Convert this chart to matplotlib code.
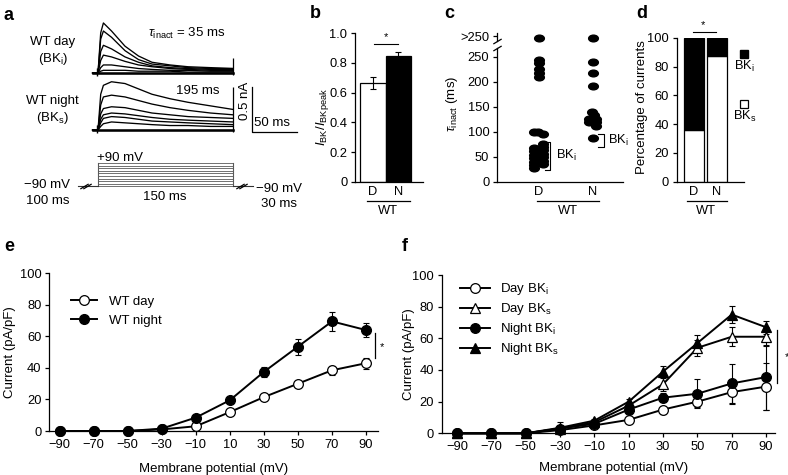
import matplotlib
matplotlib.use('Agg')
import matplotlib.pyplot as plt
from matplotlib.path import Path
from matplotlib.lines import Line2D

plt.rcParams['font.family'] = ['Liberation Sans', 'DejaVu Sans']
plt.rcParams['mathtext.fontset'] = 'custom'
plt.rcParams['mathtext.rm'] = 'Liberation Sans'
plt.rcParams['mathtext.it'] = 'Liberation Sans:italic'
plt.rcParams['mathtext.bf'] = 'Liberation Sans:bold'
plt.rcParams['font.size'] = 8.8

# ---- data ----
# panel a: current traces (nA) sampled at these times (ms)
t_trace = [-6, 0, 3, 6, 15, 30, 45, 60, 80, 100, 125, 150]
day_traces = [
    [0, 0, 0.45, 0.56, 0.47, 0.30, 0.19, 0.12, 0.09, 0.07, 0.06, 0.05],
    [0, 0, 0.38, 0.47, 0.40, 0.25, 0.15, 0.10, 0.08, 0.06, 0.05, 0.05],
    [0, 0, 0.24, 0.31, 0.27, 0.18, 0.12, 0.08, 0.06, 0.05, 0.04, 0.04],
    [0, 0, 0.14, 0.20, 0.18, 0.13, 0.09, 0.07, 0.05, 0.04, 0.03, 0.03],
    [0, 0, 0.06, 0.09, 0.09, 0.07, 0.05, 0.04, 0.03, 0.03, 0.02, 0.02],
    [0, 0, 0.02, 0.03, 0.03, 0.03, 0.02, 0.02, 0.02, 0.01, 0.01, 0.01],
    [0, 0, 0, 0, 0, 0, 0, 0, 0, 0, 0, 0],
]
night_traces = [
    [0, 0, 0.40, 0.50, 0.54, 0.52, 0.46, 0.40, 0.35, 0.31, 0.27, 0.23],
    [0, 0, 0.28, 0.37, 0.39, 0.37, 0.33, 0.29, 0.25, 0.22, 0.19, 0.17],
    [0, 0, 0.18, 0.24, 0.26, 0.25, 0.22, 0.19, 0.17, 0.15, 0.14, 0.13],
    [0, 0, 0.12, 0.17, 0.19, 0.18, 0.16, 0.14, 0.12, 0.11, 0.10, 0.09],
    [0, 0, 0.08, 0.13, 0.15, 0.14, 0.12, 0.10, 0.09, 0.08, 0.07, 0.06],
    [0, 0, 0.04, 0.07, 0.09, 0.08, 0.07, 0.06, 0.05, 0.05, 0.04, 0.04],
    [0, 0, 0, 0, 0, 0, 0, 0, 0, 0, 0, 0],
]
tail_day = 0.17
tail_night = 0.48
pulse_ms = 150
step_mv = [-90, -70, -50, -30, -10, 10, 30, 50, 70, 90]

# panel b
b_groups = ['D', 'N']
b_vals = [0.665, 0.845]
b_err = [0.04, 0.03]

# panel c: tau_inact (ms) of single cells, value 287 = ">250"
c_day = [287, 244, 238, 226, 218, 210, 100, 100, 96,
         68, 61, 54, 47, 40, 33, 27, 76, 70, 63, 56, 49, 42, 35]
c_night = [287, 240, 217, 191, 140, 133, 126, 126, 119, 119, 112, 87]

# panel d: percentage of currents
d_bks = [36, 87]
d_bki = [64, 13]

# panel e
mv = [-90, -70, -50, -30, -10, 10, 30, 50, 70, 90]
e_day = [0, 0, 0, 1, 3, 12, 21.5, 30, 38.5, 43]
e_day_err = [0, 0, 0, 0.5, 0.8, 1, 1.5, 2, 3, 3.5]
e_night = [0, 0, 0, 1.5, 8.5, 19.5, 37.5, 53.5, 69.5, 64]
e_night_err = [0, 0, 0, 0.5, 1, 1.5, 3, 5, 6, 4.5]

# panel f
f_day_bki = [0, 0, 0, 2, 5, 8.5, 15, 20, 26, 29.5]
f_day_bki_err = [0, 0, 0, 1, 1, 1, 2.5, 3.5, 7.5, 15]
f_day_bks = [0, 0, 0, 3, 7, 17.5, 31, 54, 61, 61]
f_day_bks_err = [0, 0, 0, 1, 1, 1.5, 4, 5, 6, 6]
f_night_bki = [0, 0, 0, 3, 6, 15, 22.5, 25, 31.5, 35.5]
f_night_bki_err = [0, 0, 0, 1.5, 1, 1.5, 3, 9, 12.5, 20.5]
f_night_bks = [0, 0, 0, 3.5, 8, 20, 39, 57, 75, 67]
f_night_bks_err = [0, 0, 0, 3.5, 1, 1.5, 3.5, 5, 5.5, 4]

# ---- layout helpers (pixel coords, origin top-left) ----
W, H = 788, 475
fig = plt.figure(figsize=(W / 100, H / 100), dpi=100)


def box(x0, y0, x1, y1):
    return fig.add_axes([x0 / W, 1 - y1 / H, (x1 - x0) / W, (y1 - y0) / H])


def ftext(x, y, s, **kw):
    kw.setdefault('ha', 'center')
    kw.setdefault('va', 'center')
    fig.text(x / W, 1 - y / H, s, **kw)


def fline(x0, x1, y):
    fig.add_artist(Line2D([x0 / W, x1 / W], [1 - y / H, 1 - y / H],
                          transform=fig.transFigure, color='k', lw=0.9))


def style(ax):
    for s in ['top', 'right']:
        ax.spines[s].set_visible(False)
    for s in ['left', 'bottom']:
        ax.spines[s].set_linewidth(0.9)
    ax.tick_params(direction='out', length=3, width=0.9, pad=2.5, labelsize=9.3)


brk = dict(marker=[(-1, -0.6), (1, 0.6)], markersize=6, linestyle='none',
           color='k', mec='k', mew=0.9, clip_on=False)

# ---- panel labels ----
for lab, x, y in [('a', 9, 15), ('b', 315, 13), ('c', 449, 14), ('d', 642, 13),
                  ('e', 9, 246), ('f', 405, 246)]:
    ftext(x, y, lab, fontsize=13, fontweight='bold')

# ---- panel a ----
ax_day = box(80, 15, 300, 78)
ax_day.set_xlim(-20, 224.4)
ax_day.set_ylim(-0.056, 0.649)
ax_night = box(80, 78, 300, 140)
ax_night.set_xlim(-20, 224.4)
ax_night.set_ylim(-0.112, 0.582)
for ax, traces, tail in [(ax_day, day_traces, tail_day), (ax_night, night_traces, tail_night)]:
    ax.axis('off')
    for tr in traces:
        ax.plot(t_trace, tr, color='k', lw=0.95)
    ax.plot([t_trace[0], t_trace[-1]], [0, 0], color='k', lw=1.8)
    ax.vlines([t_trace[1] - 1], -0.03, 0.06, color='k', lw=1)
    ax.vlines([pulse_ms], -0.02, tail, color='k', lw=0.9)

# scale bar 0.5 nA / 50 ms
ax_night.plot([170.8, 170.8, 220.8], [0.48, -0.02, -0.02], color='k', lw=0.9)

ftext(53, 42, 'WT day', fontsize=9.5)
ftext(53, 59, '(BK$_\\mathregular{i}$)', fontsize=9.5)
ftext(52, 101, 'WT night', fontsize=9.5)
ftext(52, 118, '(BK$_\\mathregular{s}$)', fontsize=9.5)
ftext(148, 33, '$\\tau_{\\mathregular{inact}}$ = 35 ms', fontsize=9.5, ha='left')
ftext(198, 91, '195 ms', fontsize=9.5)
ftext(245, 101, '0.5 nA', fontsize=9.5, rotation=90)
ftext(272, 123, '50 ms', fontsize=9.5)

# voltage protocol
ax_p = box(60, 150, 300, 200)
ax_p.set_xlim(-42.2, 224.4)
ax_p.set_ylim(-193.4, 189.5)
ax_p.axis('off')
for v in step_mv:
    ax_p.plot([0, pulse_ms], [v, v], color='0.35', lw=0.6)
ax_p.plot([0, 0], [step_mv[0], step_mv[-1]], color='0.35', lw=0.8)
ax_p.plot([pulse_ms, pulse_ms], [step_mv[0], step_mv[-1]], color='0.35', lw=0.8)
ax_p.plot([-22, 0], [-90, -90], color='0.2', lw=0.8)
ax_p.plot([pulse_ms, pulse_ms + 22], [-90, -90], color='0.2', lw=0.8)
ax_p.plot([-15, -12], [-90, -90], **brk)
ax_p.plot([pulse_ms + 8, pulse_ms + 11], [-90, -90], **brk)

ftext(97, 158, '+90 mV', fontsize=9.5, ha='left')
ftext(47, 185, '\u221290 mV', fontsize=9.5)
ftext(48, 201, '100 ms', fontsize=9.5)
ftext(165, 197, '150 ms', fontsize=9.5)
ftext(279, 189, '\u221290 mV', fontsize=9.5)
ftext(279, 204, '30 ms', fontsize=9.5)

# ---- panel b ----
ax_b = box(355, 33.3, 423, 181.7)
style(ax_b)
ax_b.bar([0, 1], b_vals, width=1.0, color=['white', 'black'], edgecolor='k', lw=0.9)
ax_b.errorbar([0, 1], b_vals, yerr=b_err, fmt='none', ecolor='k', elinewidth=0.8,
              capsize=2, capthick=0.8)
ax_b.set_xlim(-0.71, 1.98)
ax_b.set_ylim(0, 1.0)
ax_b.set_yticks([0, 0.2, 0.4, 0.6, 0.8, 1.0])
ax_b.set_yticklabels(['0', '0.2', '0.4', '0.6', '0.8', '1.0'])
ax_b.set_xticks([0, 1])
ax_b.set_xticklabels(b_groups)
ax_b.tick_params(axis='x', length=0, pad=3)
ax_b.plot([0.04, 0.98], [0.93, 0.93], color='k', lw=0.8, clip_on=False)
ax_b.text(0.51, 0.975, '*', ha='center', va='center', fontsize=8)
ax_b.set_ylabel('$I_{\\mathregular{BK}}/I_{\\mathregular{BKpeak}}$', fontsize=9.5)
ax_b.yaxis.set_label_coords(-0.36, 0.44)
fline(366.7, 410, 201)
ftext(388, 211, 'WT', fontsize=9.3)

# ---- panel c ----
circ = Path.unit_circle()
ell = Path(circ.vertices * [1.45, 1.0], circ.codes)
c_day_off = [0, 0, 0, 0, 0, 0, -0.09, -0.02, 0.08,
             -0.085, -0.085, -0.085, -0.085, -0.085, -0.085, -0.085,
             0.075, 0.075, 0.075, 0.075, 0.075, 0.075, 0.075]
c_night_off = [0, 0, 0, 0, -0.02, 0.03, -0.07, 0.06, -0.07, 0.06, 0.06, 0]

ax_c = box(497, 32.7, 623, 181.7)
style(ax_c)
ax_c.plot([o for o in c_day_off], c_day, linestyle='none', marker=ell, ms=7,
          color='k', clip_on=False)
ax_c.plot([1 + o for o in c_night_off], c_night, linestyle='none', marker=ell, ms=7,
          color='k', clip_on=False)
ax_c.set_xlim(-0.78, 1.56)
ax_c.set_ylim(0, 298)
ax_c.spines['left'].set_bounds(0, 268)
ax_c.plot([0, 0], [282, 298], color='k', lw=0.9, transform=ax_c.get_yaxis_transform(),
          clip_on=False)
ax_c.plot([0, 0], [268, 282], transform=ax_c.get_yaxis_transform(), **brk)
ax_c.set_yticks([0, 50, 100, 150, 200, 250, 291])
ax_c.set_yticklabels(['0', '50', '100', '150', '200', '250', '>250'])
ax_c.set_xticks([0, 1])
ax_c.set_xticklabels(['D', 'N'])
ax_c.tick_params(axis='x', length=0, pad=3)
ax_c.plot([0.11, 0.2, 0.2, 0.11], [80, 80, 23, 23], color='k', lw=0.8, clip_on=False)
ax_c.text(0.32, 52, 'BK$_\\mathregular{i}$', ha='left', va='center', fontsize=9.3)
ax_c.plot([1.09, 1.2, 1.2, 1.09], [95, 95, 70, 70], color='k', lw=0.8, clip_on=False)
ax_c.text(1.28, 83, 'BK$_\\mathregular{i}$', ha='left', va='center', fontsize=9.3)
ax_c.set_ylabel('$\\tau_{\\mathregular{inact}}$ (ms)', fontsize=9.5)
ax_c.yaxis.set_label_coords(-0.29, 0.52)
fline(536.7, 599, 201)
ftext(568, 211, 'WT', fontsize=9.3)

# ---- panel d ----
ax_d = box(676.7, 37.7, 744, 181.7)
style(ax_d)
ax_d.bar([0, 1], d_bks, width=0.88, color='white', edgecolor='k', lw=0.9)
ax_d.bar([0, 1], d_bki, bottom=d_bks, width=0.88, color='black', edgecolor='k', lw=0.9)
ax_d.set_xlim(-0.76, 2.2)
ax_d.set_ylim(0, 100)
ax_d.set_yticks([0, 20, 40, 60, 80, 100])
ax_d.set_xticks([0, 1])
ax_d.set_xticklabels(['D', 'N'])
ax_d.tick_params(axis='x', length=0, pad=3)
ax_d.plot([-0.05, 0.97], [103.7, 103.7], color='k', lw=0.8, clip_on=False)
ax_d.text(0.4, 109, '*', ha='center', va='center', fontsize=8)
ax_d.plot([2.18], [89], marker='s', ms=6, color='k', mec='k', clip_on=False)
ax_d.text(2.2, 80, 'BK$_\\mathregular{i}$', ha='center', va='center', fontsize=9.3)
ax_d.plot([2.18], [54], marker='s', ms=6, mfc='white', mec='k', mew=0.9, clip_on=False)
ax_d.text(2.22, 45, 'BK$_\\mathregular{s}$', ha='center', va='center', fontsize=9.3)
ax_d.set_ylabel('Percentage of currents', fontsize=9.5)
ax_d.yaxis.set_label_coords(-0.43, 0.52)
fline(686.7, 726.7, 201)
ftext(706, 211, 'WT', fontsize=9.3)

# ---- panel e ----
ax_e = box(49.3, 273.3, 378, 431)
style(ax_e)
ax_e.errorbar(mv, e_night, yerr=e_night_err, fmt='none', ecolor='k', elinewidth=0.8,
              capsize=2.5, capthick=0.8)
ax_e.errorbar(mv, e_day, yerr=e_day_err, fmt='none', ecolor='k', elinewidth=0.8,
              capsize=2.5, capthick=0.8)
ax_e.plot(mv, e_day, '-o', color='k', mfc='white', mec='k', mew=0.9, ms=7, lw=1.4,
          label='WT day', clip_on=False, zorder=3)
ax_e.plot(mv, e_night, '-o', color='k', mfc='k', mec='k', ms=7, lw=1.4,
          label='WT night', clip_on=False, zorder=3)
ax_e.set_xlim(-96, 97)
ax_e.set_ylim(0, 100)
ax_e.set_xticks(mv)
ax_e.set_xticklabels([str(v).replace('-', '\u2212') for v in mv])
ax_e.set_yticks([0, 20, 40, 60, 80, 100])
ax_e.plot([95.2, 95.2], [46, 62], color='k', lw=0.9, clip_on=False)
ax_e.text(99.5, 53.5, '*', ha='center', va='center', fontsize=8, clip_on=False)
ax_e.legend(loc='upper left', bbox_to_anchor=(0.065, 0.86), frameon=False,
            borderpad=0, borderaxespad=0, handlelength=2.0, handletextpad=0.9,
            labelspacing=0.55, fontsize=9.5)
ax_e.set_ylabel('Current (pA/pF)', fontsize=9.5)
ax_e.yaxis.set_label_coords(-0.1, 0.5)
ax_e.set_xlabel('Membrane potential (mV)', fontsize=9.5)
ax_e.xaxis.set_label_coords(0.5, -0.2)

# ---- panel f ----
ax_f = box(441.7, 275, 775, 433.3)
style(ax_f)
f_series = [
    (f_day_bki, f_day_bki_err, 'o', 'white', 'Day BK$_\\mathregular{i}$'),
    (f_day_bks, f_day_bks_err, '^', 'white', 'Day BK$_\\mathregular{s}$'),
    (f_night_bki, f_night_bki_err, 'o', 'black', 'Night BK$_\\mathregular{i}$'),
    (f_night_bks, f_night_bks_err, '^', 'black', 'Night BK$_\\mathregular{s}$'),
]
for vals, err, mk, fc, lab in f_series:
    ax_f.errorbar(mv, vals, yerr=err, fmt='none', ecolor='k', elinewidth=0.8,
                  capsize=2.5, capthick=0.8)
for vals, err, mk, fc, lab in f_series:
    ax_f.plot(mv, vals, '-' + mk, color='k', mfc=fc, mec='k', mew=0.9, ms=7, lw=1.4,
              label=lab, clip_on=False, zorder=3)
ax_f.set_xlim(-98.9, 95.2)
ax_f.set_ylim(0, 100)
ax_f.set_xticks(mv)
ax_f.set_xticklabels([str(v).replace('-', '\u2212') for v in mv])
ax_f.set_yticks([0, 20, 40, 60, 80, 100])
ax_f.plot([96.2, 96.2], [31.6, 65], color='k', lw=0.9, clip_on=False)
ax_f.text(102, 48.4, '*', ha='center', va='center', fontsize=8, clip_on=False)
ax_f.legend(loc='upper left', bbox_to_anchor=(0.055, 0.96), frameon=False,
            borderpad=0, borderaxespad=0, handlelength=2.3, handletextpad=0.7,
            labelspacing=0.3, fontsize=9.5)
ax_f.set_ylabel('Current (pA/pF)', fontsize=9.5)
ax_f.yaxis.set_label_coords(-0.08, 0.5)
ax_f.set_xlabel('Membrane potential (mV)', fontsize=9.5)
ax_f.xaxis.set_label_coords(0.515, -0.18)

fig.savefig('out.png', dpi=100)
